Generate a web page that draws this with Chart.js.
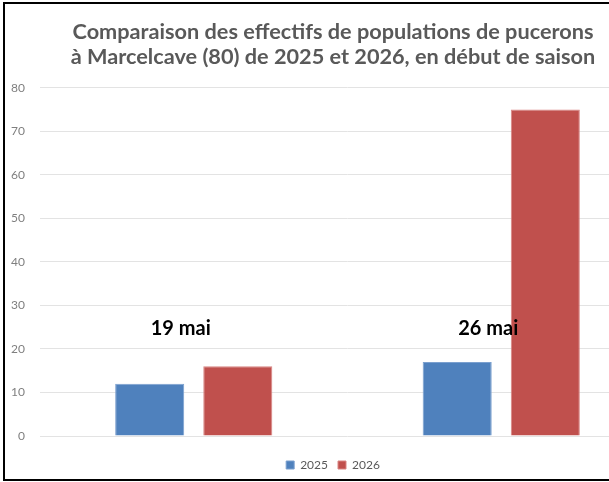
<!DOCTYPE html>
<html lang="fr">
<head>
<meta charset="utf-8">
<script src="https://cdn.jsdelivr.net/npm/chart.js@4/dist/chart.umd.min.js"></script>
<style>
  html, body { margin: 0; padding: 0; background: #fff; overflow: hidden; }
  .page { position: relative; width: 609px; height: 482px; overflow: hidden; }
  .wrap { position: absolute; left: 0; top: 0; width: 660px; height: 482px; }
  .line { position: absolute; background: #000; }
</style>
</head>
<body>
<div class="page">
  <div class="wrap"><canvas id="chart" width="660" height="482"></canvas></div>
  <div class="line" style="left:3px; top:2px; width:606px; height:2px;"></div>
  <div class="line" style="left:3px; top:2px; width:2px; height:479px;"></div>
  <div class="line" style="left:3px; top:479px; width:606px; height:2px;"></div>
</div>
<script>
// Données
const dates = ['19 mai', '26 mai'];
const effectifs2025 = [12, 17];
const effectifs2026 = [16, 75];
const titre = [
    'Comparaison des effectifs de populations de pucerons',
    'à Marcelcave (80) de 2025 et 2026, en début de saison'
];

// Étiquettes de date dessinées au-dessus des barres, comme dans l'original
const dateLabels = {
    id: 'dateLabels',
    afterDatasetsDraw(chart) {
        const { ctx, scales } = chart;
        ctx.save();
        ctx.font = 'bold 20px Lato, "Open Sans", sans-serif';
        ctx.fillStyle = '#000';
        ctx.textAlign = 'center';
        ctx.textBaseline = 'middle';
        dates.forEach((d, i) => {
            ctx.fillText(d, scales.x.getPixelForValue(i) - 13, scales.y.getPixelForValue(24.6));
        });
        ctx.restore();
    }
};

const ctx = document.getElementById('chart').getContext('2d');
new Chart(ctx, {
    type: 'bar',
    data: {
        labels: dates,
        datasets: [{
            label: '2025',
            data: effectifs2025,
            backgroundColor: '#4f81bd',
            borderColor: '#7ba0cf',
            borderWidth: 1
        }, {
            label: '2026',
            data: effectifs2026,
            backgroundColor: '#c0504d',
            borderColor: '#d98583',
            borderWidth: 1
        }]
    },
    options: {
        responsive: false,
        animation: false,
        devicePixelRatio: 1,
        categoryPercentage: 0.573,
        barPercentage: 0.784,
        layout: { padding: { left: 11, right: 5, top: 0, bottom: 1 } },
        plugins: {
            title: {
                display: true,
                text: titre,
                color: '#595959',
                font: { family: 'Lato, "Open Sans", sans-serif', size: 21.7, weight: 'bold', lineHeight: 1.17 },
                padding: { top: 19, bottom: 18 }
            },
            legend: {
                position: 'bottom',
                labels: {
                    color: '#595959',
                    font: { family: 'Lato, "Open Sans", sans-serif', size: 12 },
                    boxWidth: 8,
                    boxHeight: 8,
                    padding: 10
                }
            },
            tooltip: { enabled: false }
        },
        scales: {
            x: {
                grid: { display: false },
                border: { display: false },
                ticks: { display: false },
                afterFit: (s) => { s.height = 13; }
            },
            y: {
                min: 0,
                max: 80,
                ticks: {
                    stepSize: 10,
                    color: '#7f7f7f',
                    font: { family: 'Lato, "Open Sans", sans-serif', size: 12 },
                    padding: 15
                },
                grid: { color: '#e3e3e3', lineWidth: 1, drawTicks: false },
                border: { display: false },
                afterFit: (s) => { s.width = 29; }
            }
        }
    },
    plugins: [dateLabels]
});
</script>
</body>
</html>
